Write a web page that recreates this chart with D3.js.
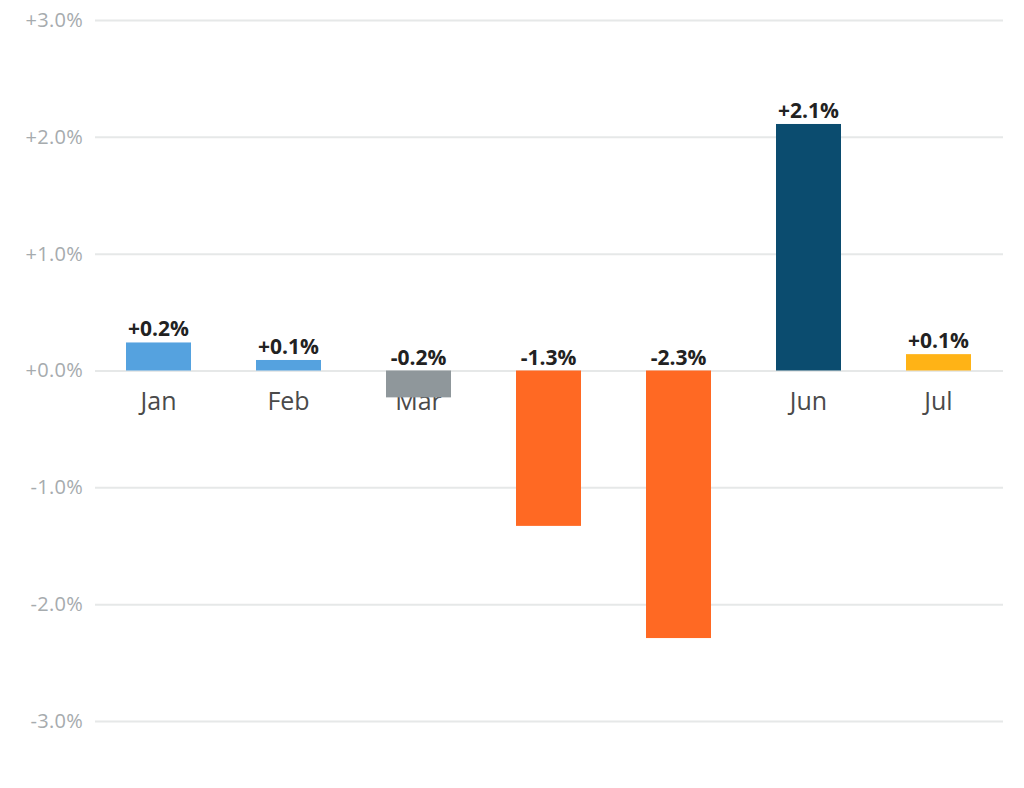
<!DOCTYPE html>
<html>
<head>
<meta charset="utf-8">
<script src="https://cdn.jsdelivr.net/npm/d3@7"></script>
<style>
  body { margin: 0; background: #fff; }
  text { font-family: "Open Sans", "Noto Sans", sans-serif; }
</style>
</head>
<body>
<div id="main"></div>
<script>
const ctx = {
    w: 1024,
    h: 788,
    left: 95,
    right: 1003,
    top: 20,
    bottom: 721
};

// chart data
const months = ["Jan", "Feb", "Mar", "Apr", "May", "Jun", "Jul"];
const values = [0.24, 0.09, -0.23, -1.33, -2.29, 2.11, 0.14];
const valueLabels = ["+0.2%", "+0.1%", "-0.2%", "-1.3%", "-2.3%", "+2.1%", "+0.1%"];
const barColors = ["#55a2df", "#55a2df", "#8f979b", "#ff6923", "#ff6923", "#0b4c6f", "#ffb316"];
const yTicks = [3, 2, 1, 0, -1, -2, -3];
const yTickLabels = ["+3.0%", "+2.0%", "+1.0%", "+0.0%", "-1.0%", "-2.0%", "-3.0%"];

function createViz() {
    let svg = d3.select("#main").append("svg")
        .attr("width", ctx.w)
        .attr("height", ctx.h);

    let yScale = d3.scaleLinear()
        .domain([-3, 3])
        .range([ctx.bottom, ctx.top]);
    // bands start a bit left of the gridlines
    let xScale = d3.scaleBand()
        .domain(months)
        .range([93.5, 1003.5])
        .paddingInner(0.5)
        .paddingOuter(0.25);

    // gridlines + tick labels
    let yAxis = d3.axisLeft(yScale)
        .tickValues(yTicks)
        .tickSize(-(ctx.right - ctx.left))
        .tickFormat((d, i) => yTickLabels[i]);
    let axisG = svg.append("g")
        .attr("transform", "translate(" + ctx.left + ",0)")
        .call(yAxis);
    axisG.select(".domain").remove();
    axisG.selectAll(".tick line")
        .attr("stroke", "#e6e8e8")
        .attr("stroke-width", 2);
    axisG.selectAll(".tick text")
        .attr("x", -12)
        .attr("fill", "#a6abae")
        .attr("font-size", 20)
        .attr("letter-spacing", 0.3);

    // month labels under the zero line (bars go over them)
    svg.append("g").selectAll("text")
        .data(months)
        .enter()
        .append("text")
            .attr("x", (d) => xScale(d) + xScale.bandwidth() / 2)
            .attr("y", yScale(0) + 39)
            .attr("text-anchor", "middle")
            .attr("font-size", 25)
            .attr("fill", "#4a4a4a")
            .text((d) => d);

    // bars
    svg.append("g").selectAll("rect")
        .data(values)
        .enter()
        .append("rect")
            .attr("x", (d, i) => xScale(months[i]))
            .attr("y", (d) => yScale(Math.max(0, d)))
            .attr("width", xScale.bandwidth())
            .attr("height", (d) => Math.abs(yScale(d) - yScale(0)))
            .attr("fill", (d, i) => barColors[i]);

    // value labels
    svg.append("g").selectAll("text")
        .data(values)
        .enter()
        .append("text")
            .attr("x", (d, i) => xScale(months[i]) + xScale.bandwidth() / 2)
            .attr("y", (d) => yScale(Math.max(0, d)) - 6)
            .attr("text-anchor", "middle")
            .attr("font-size", 21)
            .attr("font-weight", "bold")
            .attr("fill", "#222")
            .text((d, i) => valueLabels[i]);
}

createViz();
</script>
</body>
</html>
